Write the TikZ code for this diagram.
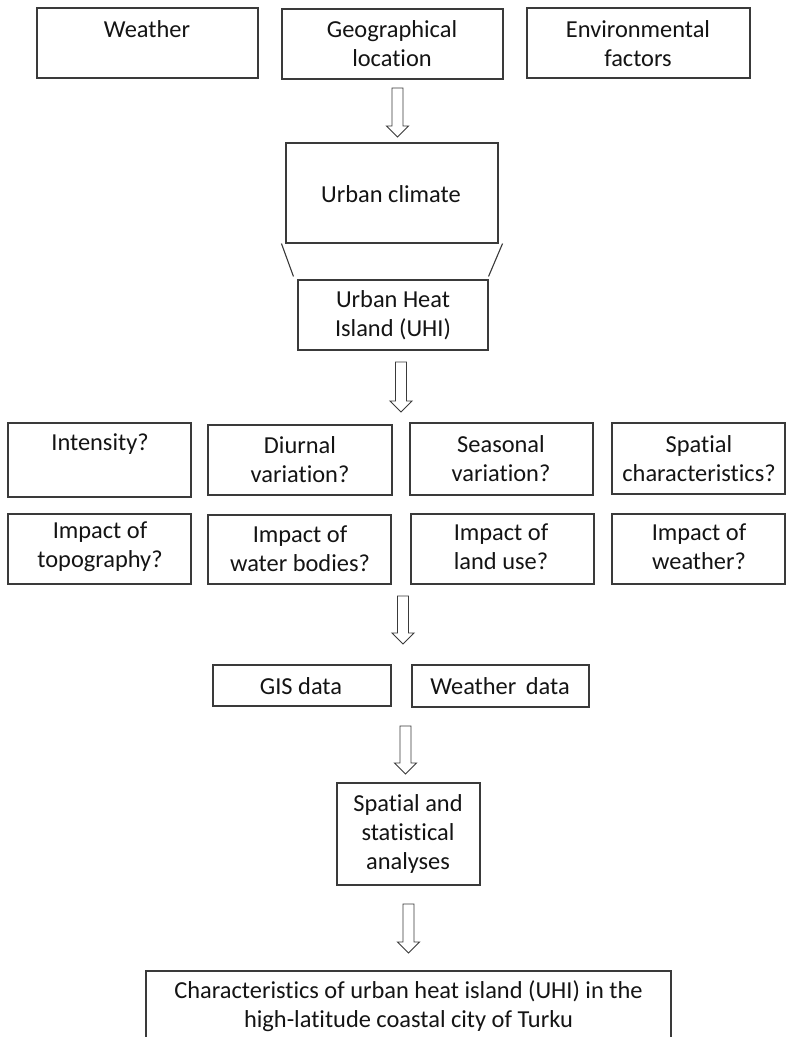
\documentclass[tikz,border=0pt]{standalone}
\usepackage{fontspec}
\setmainfont[Ligatures=NoCommon]{Carlito}
\usetikzlibrary{fit}
\definecolor{linec}{HTML}{3A3A3A}
\definecolor{textc}{HTML}{141414}
\newcommand\hollowarrow[4]{% name, x, ytop, ytip
  \draw[blockarrow] (#2-5.5,#3) -- (#2+5.5,#3) -- (#2+5.5,#4-11) -- (#2+11,#4-11)
    -- (#2,#4) coordinate (#1) -- (#2-11,#4-11) -- (#2-5.5,#4-11) -- cycle;}
\begin{document}
\begin{tikzpicture}[x=1pt,y=-1pt,
  box/.style={draw=linec, line width=1.1pt, inner sep=0pt},
  txt/.style={font=\fontsize{24.4}{29}\selectfont, align=center, inner sep=0pt, text=textc},
  blockarrow/.style={draw=linec, line width=0.9pt, fill=white, line join=miter},
  edge/.style={draw=linec, line width=1.1pt}]
\useasboundingbox (0,0) rectangle (786,1037);
\clip (0,0) rectangle (786,1037);
\fill[white] (0,0) rectangle (786,1037);

% top row
\node[box, fit={(37,8) (258,78)}] (wb) {};
\node[box, fit={(282,9) (503,79)}] (gb) {};
\node[box, fit={(527,8) (750,78)}] (eb) {};
\node[txt] (wt) at (147,29) {Weather};
\node[txt] (gt) at (392,44) {Geographical\\location};
\node[txt] (et) at (638,43.5) {Environmental\\factors};

\hollowarrow{a1}{397.5}{88}{137}

% urban climate
\node[box, fit={(286,143) (498,243)}] (uc) {};
\node[txt] (uct) at (391,194) {Urban climate};
\node[box, fit={(298,280) (488,350)}] (uhi) {};
\node[txt] (uhit) at (393,315) {Urban Heat\\Island (UHI)};
\draw[edge] ([xshift=-4pt]uc.south west) -- ([xshift=-4pt,yshift=3pt]uhi.north west);
\draw[edge] ([xshift=4pt]uc.south east) -- ([yshift=3pt]uhi.north east);

\hollowarrow{a2}{401}{362}{412}

% row 2
\node[box, fit={(8,423) (191,497)}] (r2a) {};
\node[box, fit={(208,425) (392,495)}] (r2b) {};
\node[box, fit={(410,423) (593,495)}] (r2c) {};
\node[box, fit={(612,423) (785,494)}] (r2d) {};
\node[txt] (r2at) at (100,444) {Intensity?};
\node[txt] (r2bt) at (300,460) {Diurnal\\variation?};
\node[txt] (r2ct) at (501,459) {Seasonal\\variation?};
\node[txt] (r2dt) at (699,459) {Spatial\\characteristics?};

% row 3
\node[box, fit={(8,514) (191,584)}] (r3a) {};
\node[box, fit={(208,515) (391,584)}] (r3b) {};
\node[box, fit={(411,514) (594,584)}] (r3c) {};
\node[box, fit={(612,514) (785,584)}] (r3d) {};
\node[txt] (r3at) at (100,547) {Impact of\\topography?};
\node[txt] (r3bt) at (300,549) {Impact of\\water bodies?};
\node[txt] (r3ct) at (501,547) {Impact of\\land use?};
\node[txt] (r3dt) at (699,547) {Impact of\\weather?};

\hollowarrow{a3}{403}{596}{644}

% data
\node[box, fit={(213,665) (391,706)}] (gis) {};
\node[box, fit={(412,665) (589,707)}] (wd) {};
\node[txt] (gist) at (301,686) {GIS data};
\node[txt] (wdt) at (500,686) {Weather\, data};

\hollowarrow{a4}{405.5}{726}{774}

\node[box, fit={(337,783) (480,885)}] (sa) {};
\node[txt] (sat) at (408,834) {Spatial and\\statistical\\analyses};

\hollowarrow{a5}{408.5}{904}{953}

\node[box, fit={(146,971) (671,1060)}] (fin) {};
\node[txt] (fint) at (408.5,1006.5) {Characteristics of urban heat island (UHI) in the\\high-latitude coastal city of Turku};
\end{tikzpicture}
\end{document}
